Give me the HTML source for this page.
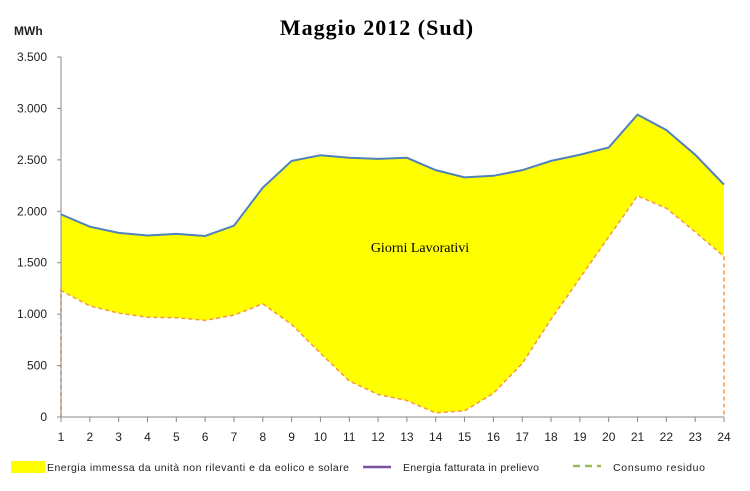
<!DOCTYPE html>
<html><head><meta charset="utf-8"><style>
body{margin:0;background:#fff;}
svg{display:block;font-family:"Liberation Sans",sans-serif;}
</style></head><body>
<svg id="s" width="750" height="491" xmlns="http://www.w3.org/2000/svg">
<rect width="750" height="491" fill="#fff"/>
<text x="377" y="35" text-anchor="middle" font-family="Liberation Serif,serif" font-weight="bold" font-size="22" letter-spacing="1">Maggio 2012 (Sud)</text>
<text x="14" y="35" font-size="12" font-weight="bold" fill="#222">MWh</text>
<g id="g"></g>
<text x="420" y="252" text-anchor="middle" font-family="Liberation Serif,serif" font-size="14">Giorni Lavorativi</text>
<rect x="11" y="461" width="34" height="12" fill="#ffff00"/>
<text x="47" y="471" font-size="10.5" fill="#222" textLength="302">Energia immessa da unità non rilevanti e da eolico e solare</text>
<line x1="363" y1="467" x2="391" y2="467" stroke="#7a52a0" stroke-width="2.5"/>
<text x="403" y="471" font-size="10.5" fill="#222" textLength="136">Energia fatturata  in prelievo</text>
<line x1="573" y1="466" x2="601" y2="466" stroke="#9bbb59" stroke-width="2.5" stroke-dasharray="7,5"/>
<text x="613" y="471" font-size="10.5" fill="#222" textLength="92">Consumo residuo</text>
</svg>
<script>
var up=[1970,1850,1790,1765,1780,1760,1860,2230,2490,2545,2520,2510,2520,2400,2330,2345,2400,2490,2550,2620,2940,2790,2550,2260];
var lo=[1230,1080,1010,970,965,940,990,1100,900,620,350,220,160,40,60,230,520,950,1350,1750,2150,2030,1800,1560];
var lab=['0','500','1.000','1.500','2.000','2.500','3.000','3.500'];
function X(i){return 61+i*663/23;}function Y(v){return 417-v*360/3500;}
var h='';
for(var k=0;k<=7;k++){var y=Y(k*500);h+='<text x="47" y="'+(y+4)+'" text-anchor="end" font-size="12" fill="#222">'+lab[k]+'</text>';h+='<line x1="57" y1="'+y+'" x2="61" y2="'+y+'" stroke="#888"/>';}
var pu=up.map((v,i)=>X(i)+','+Y(v)).join(' ');
var pl=lo.map((v,i)=>X(i)+','+Y(v));
h+='<polygon points="'+pu+' '+pl.slice().reverse().join(' ')+'" fill="#ffff00"/>';
h+='<polyline points="'+X(0)+','+Y(0)+' '+pl.join(' ')+' '+X(23)+','+Y(0)+'" fill="none" stroke="#f79646" stroke-width="1.5" stroke-dasharray="4,3"/>';
h+='<polyline points="'+pu+'" fill="none" stroke="#4f81bd" stroke-width="2"/>';
h+='<line x1="61" y1="57" x2="61" y2="417" stroke="#888"/><line x1="61" y1="417" x2="724" y2="417" stroke="#888"/>';
for(var i=0;i<24;i++){h+='<line x1="'+X(i)+'" y1="417" x2="'+X(i)+'" y2="422" stroke="#888"/><text x="'+X(i)+'" y="441" text-anchor="middle" font-size="12" fill="#222">'+(i+1)+'</text>';}
document.getElementById('g').innerHTML=h;
</script>
</body></html>
